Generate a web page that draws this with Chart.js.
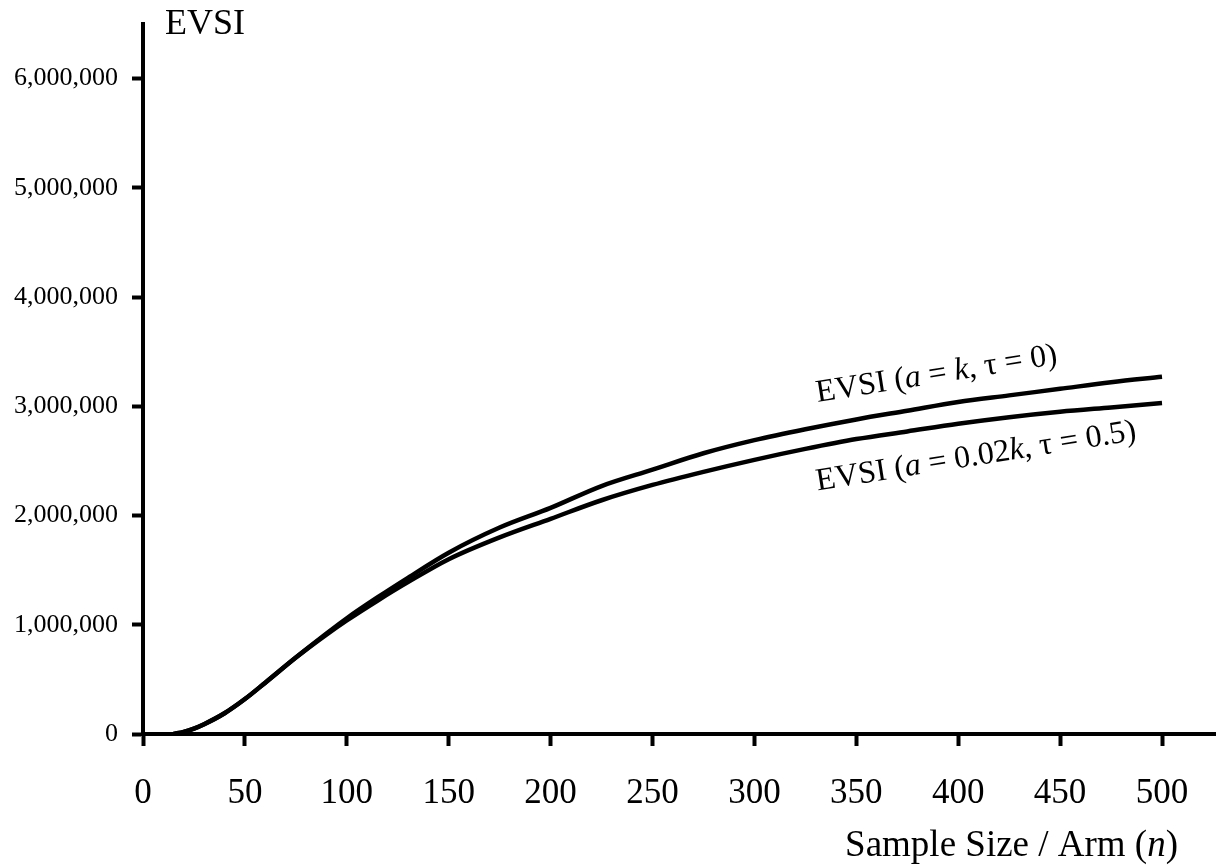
<!DOCTYPE html>
<html>
<head>
<meta charset="utf-8">
<script src="https://cdn.jsdelivr.net/npm/chart.js@4"></script>
<style>
  html, body { margin: 0; padding: 0; background: #fff; }
  #wrap { width: 1221px; height: 865px; position: relative; }
</style>
</head>
<body>
<div id="wrap"><canvas id="evsiChart"></canvas></div>
<script>
var serif = "'Liberation Serif', 'Times New Roman', serif";

// sample size per arm
var sampleSizes = [15, 20, 25, 30, 40, 50, 60, 75, 90, 100, 115, 130, 150, 175, 200,
                   225, 250, 275, 300, 325, 350, 375, 400, 425, 450, 475, 500];

// EVSI (a = k, tau = 0)
var evsiFull = [0, 20000, 50000, 90000, 190000, 320000, 470000, 700000, 920000, 1060000,
                1250000, 1430000, 1660000, 1890000, 2070000, 2270000, 2420000, 2570000,
                2690000, 2790000, 2880000, 2960000, 3040000, 3100000, 3160000, 3220000, 3270000];

// EVSI (a = 0.02k, tau = 0.5)
var evsiShrunk = [0, 20000, 50000, 90000, 190000, 320000, 470000, 700000, 910000, 1040000,
                  1220000, 1390000, 1600000, 1800000, 1970000, 2140000, 2280000, 2400000,
                  2510000, 2610000, 2700000, 2770000, 2840000, 2900000, 2950000, 2990000, 3030000];

var xTicks = [0, 50, 100, 150, 200, 250, 300, 350, 400, 450, 500];
var yTicks = [0, 1000000, 2000000, 3000000, 4000000, 5000000, 6000000];

// curve labels: segments of [text, italic], anchored at (n, EVSI)
var curveLabels = [
    { n: 331, v: 3040000, parts: [["EVSI (", false], ["a", true], [" = ", false], ["k", true], [", τ = 0)", false]] },
    { n: 331, v: 2230000, parts: [["EVSI (", false], ["a", true], [" = 0.02", false], ["k", true], [", τ = 0.5)", false]] }
];

function toPoints(xs, ys) {
    var pts = [];
    for (let i = 0; i < xs.length; i++) {
        pts.push({ x: xs[i], y: ys[i] });
    }
    return pts;
}

function drawParts(ctx, parts, size, x, y) {
    var cx = x;
    for (let i = 0; i < parts.length; i++) {
        ctx.font = (parts[i][1] ? "italic " : "") + size + "px " + serif;
        ctx.fillText(parts[i][0], cx, y);
        cx += ctx.measureText(parts[i][0]).width;
    }
    return cx;
}

function partsWidth(ctx, parts, size) {
    var w = 0;
    for (let i = 0; i < parts.length; i++) {
        ctx.font = (parts[i][1] ? "italic " : "") + size + "px " + serif;
        w += ctx.measureText(parts[i][0]).width;
    }
    return w;
}

var textPlugin = {
    id: 'evsiText',
    afterDraw: function (chart) {
        var ctx = chart.ctx;
        var xs = chart.scales.x;
        var ys = chart.scales.y;
        var area = chart.chartArea;
        ctx.save();
        ctx.fillStyle = '#000';
        ctx.textAlign = 'left';
        ctx.textBaseline = 'alphabetic';

        // y axis title
        drawParts(ctx, [["EVSI", false]], 36, area.left + 22, 34);

        // x axis title, right aligned
        var title = [["Sample Size / Arm (", false], ["n", true], [")", false]];
        var tw = partsWidth(ctx, title, 37);
        drawParts(ctx, title, 37, area.right - 37 - tw, 856);

        // labels along the curves
        curveLabels.forEach(function (lab) {
            ctx.save();
            ctx.translate(xs.getPixelForValue(lab.n), ys.getPixelForValue(lab.v));
            ctx.rotate(-9 * Math.PI / 180);
            drawParts(ctx, lab.parts, 32, 0, 0);
            ctx.restore();
        });
        ctx.restore();
    }
};

function make_datasets() {
    var common = {
        borderColor: '#000',
        backgroundColor: '#000',
        borderWidth: 4.5,
        pointRadius: 0,
        fill: false,
        cubicInterpolationMode: 'monotone'
    };
    return [
        Object.assign({ label: 'EVSI (a = k, τ = 0)', data: toPoints(sampleSizes, evsiFull) }, common),
        Object.assign({ label: 'EVSI (a = 0.02k, τ = 0.5)', data: toPoints(sampleSizes, evsiShrunk) }, common)
    ];
}

var ctx = document.getElementById('evsiChart').getContext('2d');
var chart = new Chart(ctx, {
    type: 'line',
    data: { datasets: make_datasets() },
    plugins: [textPlugin],
    options: {
        responsive: true,
        maintainAspectRatio: false,
        animation: false,
        layout: { padding: { top: 24, right: 6, left: 0, bottom: 0 } },
        plugins: {
            legend: { display: false },
            tooltip: { enabled: false }
        },
        scales: {
            x: {
                type: 'linear',
                min: 0,
                max: 526,
                afterBuildTicks: function (scale) {
                    scale.ticks = xTicks.map(function (v) { return { value: v }; });
                },
                afterFit: function (scale) {
                    scale.height = 131;
                    scale.paddingLeft = 0;
                    scale.paddingRight = 0;
                },
                border: { display: true, color: '#000', width: 4 },
                grid: { drawOnChartArea: false, drawTicks: true, tickLength: 12, tickWidth: 4, tickColor: '#000' },
                ticks: {
                    color: '#000',
                    padding: 27,
                    maxRotation: 0,
                    autoSkip: false,
                    font: { family: serif, size: 35 }
                }
            },
            y: {
                type: 'linear',
                min: 0,
                max: 6500000,
                afterBuildTicks: function (scale) {
                    scale.ticks = yTicks.map(function (v) { return { value: v }; });
                },
                afterFit: function (scale) {
                    scale.width = 143;
                    scale.paddingTop = 0;
                    scale.paddingBottom = 0;
                },
                border: { display: true, color: '#000', width: 4 },
                grid: { drawOnChartArea: false, drawTicks: true, tickLength: 11, tickWidth: 4, tickColor: '#000' },
                ticks: {
                    color: '#000',
                    padding: 14,
                    font: { family: serif, size: 26 },
                    callback: function (v) { return Number(v).toLocaleString('en-US'); }
                }
            }
        }
    }
});
</script>
</body>
</html>
